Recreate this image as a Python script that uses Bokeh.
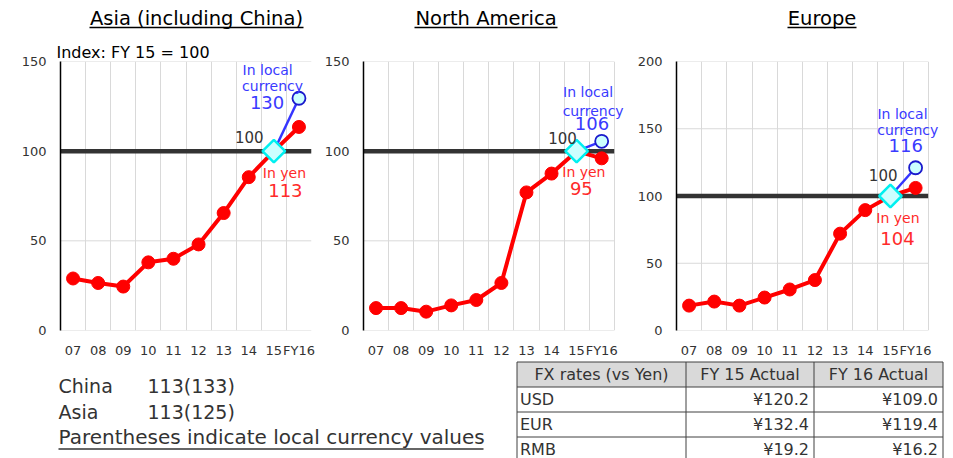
import numpy as np
from bokeh.plotting import figure
from bokeh.layouts import column, row
from bokeh.models import Range1d, FixedTicker, Label, Title
from bokeh.embed import file_html
from bokeh.resources import INLINE
from bokeh.core.properties import value

FONT = "DejaVu Sans"
DARK = "#333333"
RED = "#ff0000"
RED_TXT = "#ff2a2a"
BLUE = "#3535ff"
BLUE_TXT = "#3a3aff"

# ---------------- data ----------------
years = ["07", "08", "09", "10", "11", "12", "13", "14", "15", "FY16"]
titles = ["Asia (including China)", "North America", "Europe"]

asia_yen = [29, 26.5, 24.5, 38, 40, 48, 65.5, 85.5, 100, 113.5]
asia_local = [100, 129.5]          # FY15 -> FY16
na_yen = [12.5, 12.5, 10.5, 14, 17, 26.5, 77, 87.5, 100, 96]
na_local = [100, 105.5]
eu_yen = [18.5, 21.5, 18.5, 24.5, 30.5, 37.5, 72, 89.5, 100, 106]
eu_local = [100, 121]

asia_labels = ["130", "113"]
na_labels = ["106", "95"]
eu_labels = ["116", "104"]

base_index = 100
yticks_150 = [0, 50, 100, 150]
yticks_200 = [0, 50, 100, 150, 200]

note_names = ["China", "Asia"]
note_values = ["113(133)", "113(125)"]
note_footer = "Parentheses indicate local currency values"

fx_header = ["FX rates (vs Yen)", "FY 15 Actual", "FY 16 Actual"]
fx_names = ["USD", "EUR", "RMB"]
fx_fy15 = [120.2, 132.4, 19.2]
fx_fy16 = [109.0, 119.4, 16.2]

n = len(years)
xs = [i + 0.5 for i in range(n)]


def make_chart(yen, local, ymax, yticks, width, left, right, xend, labels):
    p = figure(width=width, height=320, x_range=Range1d(0, xend), y_range=Range1d(0, ymax),
               output_backend="svg", toolbar_location=None, title=None,
               min_border_left=left, min_border_right=right,
               min_border_top=21, min_border_bottom=29)
    p.outline_line_color = None
    p.xaxis.ticker = FixedTicker(ticks=xs)
    p.xaxis.major_label_overrides = {x: lab for x, lab in zip(xs, years)}
    p.xaxis.axis_line_color = None
    p.xaxis.major_tick_line_color = None
    p.xaxis.minor_tick_line_color = None
    p.xaxis.major_tick_out = 0
    p.xaxis.major_tick_in = 0
    p.xaxis.major_label_standoff = 12
    p.yaxis.ticker = FixedTicker(ticks=yticks)
    p.yaxis.axis_line_color = "black"
    p.yaxis.axis_line_width = 1.5
    p.yaxis.major_tick_line_color = None
    p.yaxis.minor_tick_line_color = None
    p.yaxis.major_tick_out = 0
    p.yaxis.major_tick_in = 0
    p.yaxis.major_label_standoff = 14
    for ax in (p.xaxis, p.yaxis):
        ax.major_label_text_font = FONT
        ax.major_label_text_font_size = "13px"
        ax.major_label_text_color = DARK
    p.xgrid.ticker = FixedTicker(ticks=list(range(n + 1)))
    p.xgrid.grid_line_color = "#d9d9d9"
    p.ygrid.visible = False
    # horizontal grid lines limited to the category span
    p.segment(x0=[0] * len(yticks), y0=yticks, x1=[n] * len(yticks), y1=yticks,
              line_color="#d9d9d9", line_width=1, level="underlay")
    # FY15 = 100 reference line
    p.segment(x0=[0], y0=[base_index], x1=[n], y1=[base_index], line_color=DARK, line_width=4.5)

    p.line(xs, yen, line_color=RED, line_width=4)
    p.scatter(xs, yen, size=13, fill_color=RED, line_color=RED, marker="circle")
    p.line(xs[8:], local, line_color=BLUE, line_width=2.5)
    p.scatter([xs[9]], [local[1]], size=13, fill_color="#ccffff", line_color="#1a1acc",
              line_width=1.8, marker="circle")
    p.scatter([xs[8]], [local[0]], size=16, marker="square", angle=np.pi / 4,
              fill_color="#ccffff", line_color="#00f0f0", line_width=2.5)

    for text, x, y, size, color, align in labels:
        p.add_layout(Label(x=x, y=y, text=text, text_font=FONT, text_font_size=f"{size}px",
                           text_color=color, text_align=align, text_baseline="middle"))
    return p


def lbls(vals, pos):
    (lx, ly), (cx, cy), (vx, vy), (hx, hy), (yx, yy), (wx, wy) = pos
    return [
        ("In local", lx, ly, 14, BLUE_TXT, "center"),
        ("currency", cx, cy, 14, BLUE_TXT, "center"),
        (vals[0], vx, vy, 18, BLUE_TXT, "center"),
        ("100", hx, hy, 15, DARK, "right"),
        ("In yen", yx, yy, 14, RED_TXT, "center"),
        (vals[1], wx, wy, 18, RED_TXT, "center"),
    ]


p1 = make_chart(asia_yen, asia_local, 150, yticks_150, 320, 60, 9, 10,
                lbls(asia_labels, [(8.25, 145), (8.45, 136.3), (8.23, 127.4),
                                   (8.09, 108), (8.92, 87.6), (8.96, 78.3)]))
p1.title = Title(text="Index: FY 15 = 100", align="left", offset=-4, standoff=0,
                 text_font=FONT, text_font_size="16px", text_font_style="normal",
                 text_color="black")
p2 = make_chart(na_yen, na_local, 150, yticks_150, 310, 43, 5, 10.45,
                lbls(na_labels, [(8.96, 133), (9.16, 122.6), (9.11, 115.4),
                                 (8.51, 107.6), (8.79, 88.5), (8.69, 79.3)]))
p3 = make_chart(eu_yen, eu_local, 200, yticks_200, 323, 46, 14, 10.45,
                lbls(eu_labels, [(8.98, 161.3), (9.19, 149.4), (9.11, 137.3),
                                 (8.78, 115.6), (8.80, 83.5), (8.78, 68.7)]))

# ---------------- title strip ----------------
top = figure(width=953, height=40, x_range=Range1d(0, 953), y_range=Range1d(40, 0),
             output_backend="svg", toolbar_location=None, title=None,
             x_axis_location=None, y_axis_location=None, min_border=0)
top.outline_line_color = None
top.grid.visible = False
title_cx = [196, 485.5, 821.5]
title_x0 = [89, 414, 787]
title_x1 = [303, 557, 856]
top.text(x=title_cx, y=[17.5] * 3, text=titles, text_font=value(FONT), text_font_size="19.5px",
         text_color="black", text_align="center", text_baseline="middle")
top.segment(x0=title_x0, y0=[27] * 3, x1=title_x1, y1=[27] * 3, line_color="black", line_width=1.5)

# ---------------- bottom: notes and FX table ----------------
bot = figure(width=953, height=98, x_range=Range1d(0, 953), y_range=Range1d(458, 360),
             output_backend="svg", toolbar_location=None, title=None,
             x_axis_location=None, y_axis_location=None, min_border=0)
bot.outline_line_color = None
bot.grid.visible = False
bot.text(x=[58, 58], y=[385, 411], text=note_names, text_font=value(FONT), text_font_size="19px",
         text_color=DARK, text_align="left", text_baseline="middle")
bot.text(x=[147, 147], y=[385, 411], text=note_values, text_font=value(FONT), text_font_size="19px",
         text_color=DARK, text_align="left", text_baseline="middle")
bot.text(x=[58], y=[436.5], text=[note_footer], text_font=value(FONT), text_font_size="20px",
         text_color=DARK, text_align="left", text_baseline="middle")
bot.segment(x0=[58], y0=[448.5], x1=[483], y1=[448.5], line_color=DARK, line_width=1.5)

col_edges = [516.5, 685.5, 813.5, 942.5]
row_edges = [361.5, 386.5, 411.5, 436.5, 461.5]
bot.quad(left=[col_edges[0]], right=[col_edges[-1]], top=[row_edges[0]], bottom=[row_edges[1]],
         fill_color="#d9d9d9", line_color=None)
bot.segment(x0=[col_edges[0]] * 4, y0=row_edges[:4], x1=[col_edges[-1]] * 4, y1=row_edges[:4],
            line_color="#404040", line_width=1)
bot.segment(x0=col_edges, y0=[row_edges[0]] * 4, x1=col_edges, y1=[row_edges[-1]] * 4,
            line_color="#404040", line_width=1)
hx = [(col_edges[i] + col_edges[i + 1]) / 2 for i in range(3)]
bot.text(x=hx, y=[374] * 3, text=fx_header, text_font=value(FONT), text_font_size="16px",
         text_color=DARK, text_align="center", text_baseline="middle")
row_y = [399, 424, 449]
bot.text(x=[519.5] * 3, y=row_y, text=fx_names, text_font=value(FONT), text_font_size="16px",
         text_color=DARK, text_align="left", text_baseline="middle")
bot.text(x=[col_edges[2] - 5] * 3, y=row_y, text=[f"¥{v:.1f}" for v in fx_fy15],
         text_font=value(FONT), text_font_size="16px", text_color=DARK,
         text_align="right", text_baseline="middle")
bot.text(x=[col_edges[3] - 5] * 3, y=row_y, text=[f"¥{v:.1f}" for v in fx_fy16],
         text_font=value(FONT), text_font_size="16px", text_color=DARK,
         text_align="right", text_baseline="middle")

layout = column(top, row(p1, p2, p3), bot)
open("out.html", "w").write(file_html(layout, INLINE))
